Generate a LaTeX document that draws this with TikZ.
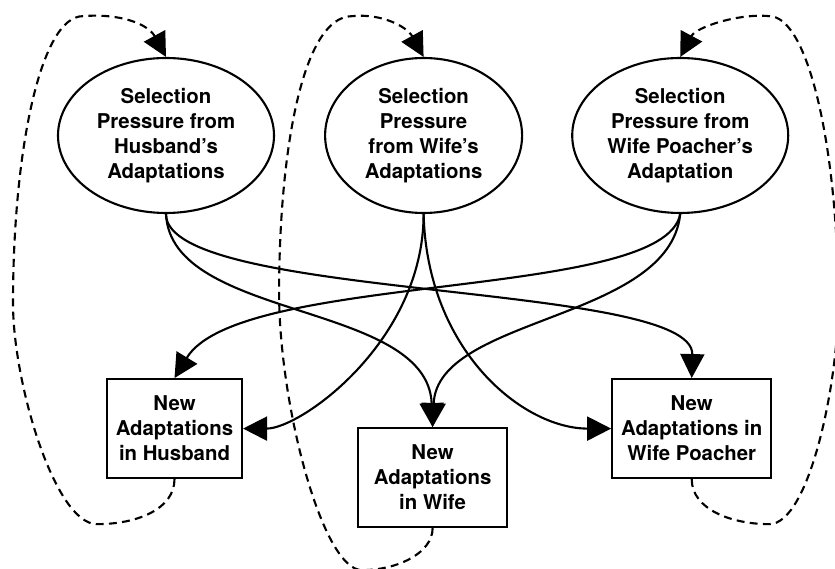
\documentclass[tikz,border=0pt]{standalone}
\usepackage{fontspec}
\setmainfont{TeX Gyre Heros}
\usetikzlibrary{arrows.meta,positioning,shapes.geometric}

\begin{document}
\begin{tikzpicture}[
  font=\bfseries\fontsize{11.6}{14.2}\selectfont,
  sel/.style={draw, ellipse, align=center, inner sep=0pt, line width=1.2pt, minimum height=3.1cm, minimum width=4.32cm},
  box/.style={draw, align=center, inner sep=0pt, line width=1.2pt, minimum height=1.98cm},
  arr/.style={-{Triangle[length=0.48cm,width=0.48cm]}, line width=1.2pt},
  back/.style={arr, dash pattern=on 4.5pt off 3pt}
]
\useasboundingbox (-3.32,-8.67) rectangle (13.38,2.71);
\node[sel] (hp) {Selection\\Pressure from\\Husband’s\\Adaptations};
\node[sel, right=0.98cm of hp, minimum width=3.94cm] (wp) {Selection\\Pressure\\from Wife’s\\Adaptations};
\node[sel, right=0.96cm of wp] (pp) {Selection\\Pressure from\\Wife Poacher’s\\Adaptation};
\node[box, below=3.28cm of hp, xshift=0.17cm, minimum width=2.7cm] (hn) {New\\Adaptations\\in Husband};
\node[box, below=4.26cm of wp, xshift=0.18cm, minimum width=2.98cm] (wn) {New\\Adaptations\\in Wife};
\node[box, below=3.28cm of pp, xshift=0.23cm, minimum width=3.18cm] (pn) {New\\Adaptations in\\Wife Poacher};
% pressures onto the new adaptations
\draw[arr] (hp.south) .. controls +(0.1,-2.14) and +(-0.1,2.52) .. (wn.north);
\draw[arr] (hp.south) .. controls +(0,-1.74) and +(0.05,1.94) .. (pn.north);
\draw[arr] (wp.south) .. controls +(0,-2.54) and +(1.16,0) .. (hn.east);
\draw[arr] (wp.south) .. controls +(0.07,-2.74) and +(-1.76,0) .. (pn.west);
\draw[arr] (pp.south) .. controls +(-0.32,-1.74) and +(1.3,2.14) .. (hn.north);
\draw[arr] (pp.south) .. controls +(-0.22,-2.14) and +(0.1,2.22) .. (wn.north);
% feedback loops
\draw[back] (hn.south) .. controls +(0,-0.6) and +(0.8,0) .. ++(-1.55,-0.9)
  .. controls +(-0.84,0) and +(0,-1.6) .. ++(-1.68,4.42)
  .. controls +(0,3) and +(-0.86,0) .. ++(1.4,5.74)
  .. controls +(0.74,0.06) and +(-0.36,0.66) .. (hp.north);
\draw[back] (wn.south) .. controls +(0,-0.5) and +(0.7,0) .. ++(-1.41,-0.84)
  .. controls +(-0.8,0) and +(0,-2.2) .. ++(-1.66,5.54)
  .. controls +(0,2.8) and +(-1.0,0) .. ++(1.46,5.54)
  .. controls +(0.6,0.06) and +(-0.33,0.6) .. (wp.north);
\draw[back] (pn.south) .. controls +(0,-0.6) and +(-0.76,0) .. ++(1.55,-0.9)
  .. controls +(0.8,0) and +(0,-1.6) .. ++(1.38,4.42)
  .. controls +(0,3) and +(0.8,0) .. ++(-1.38,5.74)
  .. controls +(-0.6,0.06) and +(0.32,0.6) .. (pp.north);
\end{tikzpicture}
\end{document}
